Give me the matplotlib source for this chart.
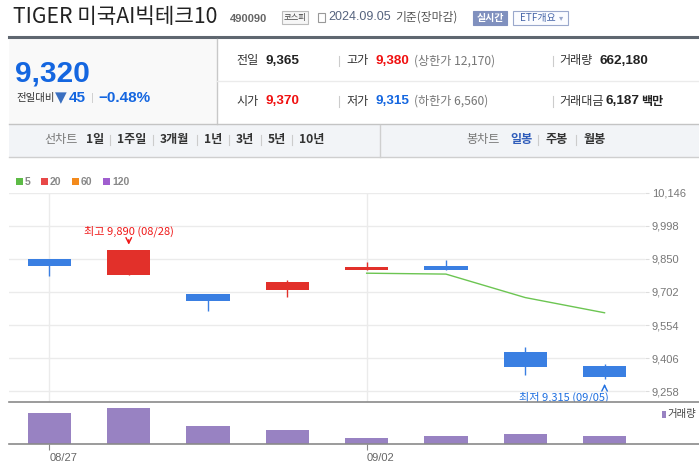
import matplotlib
matplotlib.use("Agg")
import matplotlib.pyplot as plt
from matplotlib.patches import Rectangle
from matplotlib.lines import Line2D

# 데이터
dates = ['08/27', '08/28', '08/29', '08/30', '09/02', '09/03', '09/04', '09/05']
opens = [9850, 9780, 9695, 9710, 9800, 9820, 9435, 9370]
closes = [9819, 9890, 9660, 9745, 9815, 9800, 9365, 9320]
highs = [9850, 9890, 9695, 9755, 9835, 9845, 9455, 9380]
lows = [9775, 9780, 9615, 9680, 9800, 9800, 9330, 9315]
volumes = [2500000, 2900000, 1460000, 1140000, 500000, 662000, 820000, 662180]
ma5_dates = ['09/02', '09/03', '09/04', '09/05']
ma5 = [9786, 9782, 9677, 9609]
price_ticks = [10146, 9998, 9850, 9702, 9554, 9406, 9258]
date_ticks = ['08/27', '09/02']

KR = ['Noto Sans CJK KR', 'DejaVu Sans']
NUM = ['Liberation Sans', 'DejaVu Sans']
plt.rcParams['font.family'] = KR

W, H = 699, 468
fig = plt.figure(figsize=(W / 100, H / 100), dpi=100)


def fx(x):
    return x / W


def fy(y):
    return 1 - y / H


def ptext(x, y, s, **kw):
    kw.setdefault('va', 'center')
    kw.setdefault('ha', 'left')
    return fig.text(fx(x), fy(y), s, **kw)


def prect(x0, y0, x1, y1, **kw):
    r = Rectangle((fx(x0), fy(y1)), fx(x1) - fx(x0), fy(y0) - fy(y1),
                  transform=fig.transFigure, **kw)
    fig.add_artist(r)


def pline(x0, y0, x1, y1, **kw):
    fig.add_artist(Line2D([fx(x0), fx(x1)], [fy(y0), fy(y1)], transform=fig.transFigure, **kw))


# 헤더
ptext(13, 17, 'TIGER 미국AI빅테크10', fontsize=15.3, color='#222')
ptext(230, 18.5, '490090', fontsize=8, color='#666', fontweight='bold', family=NUM)
prect(282, 11, 308, 24, facecolor='#f6f6f6', edgecolor='#bbb', lw=0.8)
ptext(295, 17.5, '코스피', fontsize=6, color='#444', ha='center')
prect(318, 13, 325, 22, facecolor='none', edgecolor='#999', lw=0.8)
ptext(328, 17.5, '2024.09.05', fontsize=9, color='#55637e', family=NUM)
ptext(395, 17.5, '기준(장마감)', fontsize=8.5, color='#555')
prect(473, 11, 507, 25, facecolor='#8090be', edgecolor='#8090be', lw=0.8)
ptext(490, 18, '실시간', fontsize=7.2, color='white', ha='center', fontweight='bold')
prect(513, 11, 568, 25, facecolor='#fbfcff', edgecolor='#9aa8cc', lw=0.8)
ptext(538, 18, 'ETF개요', fontsize=7.2, color='#4665a8', ha='center')
ptext(561, 18, '▾', fontsize=6, color='#9aa8cc', ha='center', family=['DejaVu Sans'])

# 시세 박스
pline(9, 37.3, 699, 37.3, color='#5f6770', lw=2.2)
prect(9, 38.5, 217, 124, facecolor='#f9f9f9', edgecolor='none')
pline(217, 38.5, 217, 124, color='#c8c8c8', lw=1)
pline(217, 80.7, 699, 80.7, color='#ebebeb', lw=1)
pline(9, 124, 699, 124, color='#c4c4c4', lw=1)

ptext(15, 82, '9,320', fontsize=21.5, color='#1466e0', fontweight='bold', family=NUM, va='baseline')
ptext(16, 98, '전일대비', fontsize=7.5, color='#333')
ptext(55, 98, '▼', fontsize=11, color='#3a6fc0', family=['DejaVu Sans'])
ptext(69, 98, '45', fontsize=11, color='#1466e0', fontweight='bold', family=NUM)
ptext(91, 98, '|', fontsize=8, color='#ccc', family=NUM)
ptext(98, 98, '\u22120.48%', fontsize=11, color='#1466e0', fontweight='bold', family=NUM)

r1, r2 = 60.7, 101.5
ptext(236, r1, '전일', fontsize=8.7, color='#333')
ptext(266, r1, '9,365', fontsize=9.7, color='#222', fontweight='bold', family=NUM)
ptext(236, r2, '시가', fontsize=8.7, color='#333')
ptext(266, r2, '9,370', fontsize=9.7, color='#f01010', fontweight='bold', family=NUM)
for yy in (r1, r2):
    pline(339, yy - 5, 339, yy + 5, color='#ccc', lw=0.8)
    pline(553, yy - 5, 553, yy + 5, color='#ccc', lw=0.8)
ptext(346, r1, '고가', fontsize=8.7, color='#333')
ptext(376, r1, '9,380', fontsize=9.7, color='#f01010', fontweight='bold', family=NUM)
ptext(414, r1, '(상한가 12,170)', fontsize=8.7, color='#777')
ptext(346, r2, '저가', fontsize=8.7, color='#333')
ptext(376, r2, '9,315', fontsize=9.7, color='#1466e0', fontweight='bold', family=NUM)
ptext(414, r2, '(하한가 6,560)', fontsize=8.7, color='#777')
ptext(559, r1, '거래량', fontsize=8.7, color='#333')
ptext(599, r1, '662,180', fontsize=9.7, color='#222', fontweight='bold', family=NUM)
ptext(559, r2, '거래대금', fontsize=8.7, color='#333')
ptext(606, r2, '6,187', fontsize=9.7, color='#222', fontweight='bold', family=NUM)
ptext(641, r2, '백만', fontsize=8.7, color='#222', fontweight='bold')

# 탭 영역
prect(9, 124.5, 699, 157, facecolor='#f2f4f7', edgecolor='none')
pline(9, 157, 699, 157, color='#cfcfcf', lw=1)
pline(380, 124.5, 380, 157, color='#cfcfcf', lw=1)
ty = 139.5
ptext(44, ty, '선차트', fontsize=8.7, color='#777')
tabs = [('1일', 86), ('1주일', 117), ('3개월', 160), ('1년', 204), ('3년', 236), ('5년', 268), ('10년', 299)]
for k, (lab, xx) in enumerate(tabs):
    ptext(xx, ty, lab, fontsize=8.7, color='#333', fontweight='bold')
    if k > 0:
        pline(xx - 7, ty - 5, xx - 7, ty + 5, color='#ccc', lw=0.8)
ptext(466, ty, '봉차트', fontsize=8.7, color='#777')
ptext(510, ty, '일봉', fontsize=8.7, color='#2f5cba', fontweight='bold')
pline(538, ty - 5, 538, ty + 5, color='#ccc', lw=0.8)
ptext(545, ty, '주봉', fontsize=8.7, color='#333', fontweight='bold')
pline(576, ty - 5, 576, ty + 5, color='#ccc', lw=0.8)
ptext(583, ty, '월봉', fontsize=8.7, color='#333', fontweight='bold')

# 이동평균 범례
leg = [('5', '#5dbb46', 16), ('20', '#e84848', 41), ('60', '#f38a1c', 72), ('120', '#a05ecf', 103)]
for lab, col, xx in leg:
    prect(xx, 178.5, xx + 7, 185.5, facecolor=col, edgecolor='none')
    ptext(xx + 9, 182, lab, fontsize=7.5, color='#888', fontweight='bold', family=NUM)

# 가격 차트
x = list(range(len(dates)))
ax = fig.add_axes([fx(9), fy(402), fx(645) - fx(9), fy(192.7) - fy(402)])
ax.set_xlim(-0.51, 7.51)
ax.set_ylim(9210, 10146)
for t in price_ticks:
    ax.axhline(t, color='#ebebeb', lw=1, zorder=0)
for d in date_ticks:
    ax.axvline(dates.index(d), color='#ebebeb', lw=1, zorder=0)

for i in x:
    col = '#e2302a' if closes[i] >= opens[i] else '#3a7fe2'
    ax.vlines(i, lows[i], highs[i], color=col, lw=1, zorder=2)
    ax.bar(i, max(abs(closes[i] - opens[i]), 8), bottom=min(opens[i], closes[i]),
           width=0.545, color=col, zorder=3)

ma_x = [dates.index(d) for d in ma5_dates]
ax.plot(ma_x, ma5, color='#6cc552', lw=1, zorder=4)

ax.text(1, 9975, '최고 9,890 (08/28)', color='#f01818', fontsize=8, ha='center', va='center')
ax.annotate('', xy=(1, 9901), xytext=(1, 9948),
            arrowprops=dict(arrowstyle='->', color='#f01818', lw=1))
ax.text(7.05, 9233, '최저 9,315 (09/05)', color='#1f6fe0', fontsize=8, ha='right', va='center', clip_on=True)
ax.annotate('', xy=(7, 9303), xytext=(7, 9266),
            arrowprops=dict(arrowstyle='->', color='#1f6fe0', lw=1))

ax.set_xticks([])
ax.yaxis.tick_right()
ax.set_yticks(price_ticks)
ax.set_yticklabels([f'{t:,}' for t in price_ticks], family=NUM)
ax.tick_params(axis='y', length=3, color='#ddd', labelcolor='#777', labelsize=8, pad=2)
for s in ax.spines.values():
    s.set_visible(False)

# 거래량 차트
vax = fig.add_axes([fx(9), fy(444.3), fx(645) - fx(9), fy(402) - fy(444.3)])
vax.set_xlim(-0.51, 7.51)
vax.set_ylim(0, 3375000)
vax.bar(x, volumes, width=0.545, color='#9882c2')
vax.set_yticks([])
vax.set_xticks([dates.index(d) for d in date_ticks])
vax.set_xticklabels(date_ticks, family=NUM)
vax.tick_params(axis='x', length=4, color='#888', labelcolor='#666', labelsize=8, pad=2)
for lbl in vax.get_xticklabels():
    lbl.set_ha('left')
for s in vax.spines.values():
    s.set_visible(False)

pline(9, 402, 699, 402, color='#8a8a8a', lw=1.2)
pline(9, 444.3, 699, 444.3, color='#8a8a8a', lw=1.2)
prect(662, 410.5, 665.5, 417.5, facecolor='#9882c2', edgecolor='none')
ptext(667, 414, '거래량', fontsize=7.5, color='#444')

fig.savefig('out.png', dpi=100)
